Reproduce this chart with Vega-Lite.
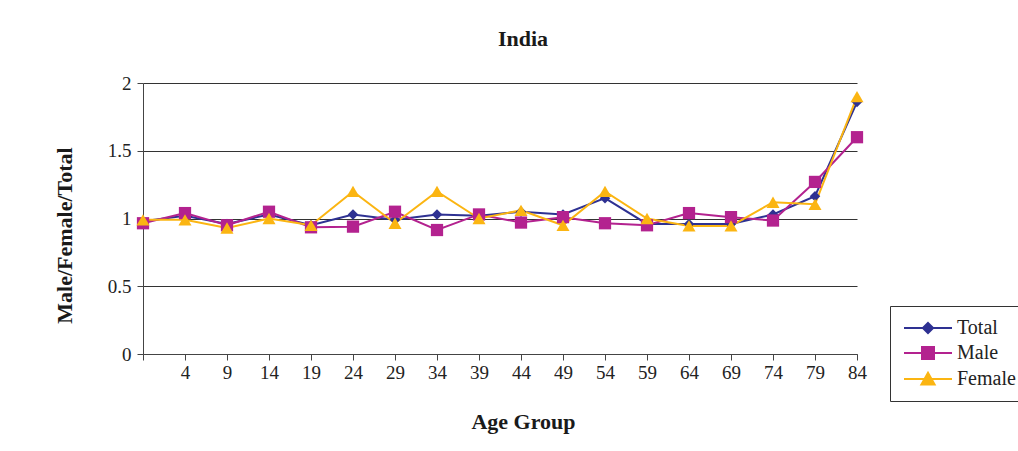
{
  "$schema": "https://vega.github.io/schema/vega-lite/v6.json",
  "autosize": {"type": "none"},
  "width": 714,
  "height": 271,
  "padding": {"left": 143, "top": 83, "right": 161, "bottom": 97},
  "background": "white",
  "config": {
    "font": "Liberation Serif",
    "view": {"stroke": null},
    "axis": {
      "labelFont": "Liberation Serif",
      "labelFontSize": 19,
      "labelColor": "#222",
      "titleFont": "Liberation Serif",
      "titleFontSize": 22,
      "titleFontWeight": "bold",
      "titleColor": "#1a1a1a",
      "domainColor": "#444",
      "tickColor": "#444",
      "tickSize": 6,
      "gridColor": "#333",
      "gridWidth": 1,
      "gridOpacity": 1
    }
  },
  "title": {
    "text": "India",
    "font": "Liberation Serif",
    "fontSize": 22,
    "fontWeight": "bold",
    "color": "#1a1a1a",
    "anchor": "middle",
    "baseline": "alphabetic",
    "offset": 6,
    "dx": 23
  },
  "data": {
    "values": [
      {"age": 0, "series": "Total", "value": 0.98},
      {"age": 4, "series": "Total", "value": 1.02},
      {"age": 9, "series": "Total", "value": 0.96},
      {"age": 14, "series": "Total", "value": 1.03},
      {"age": 19, "series": "Total", "value": 0.95},
      {"age": 24, "series": "Total", "value": 1.03},
      {"age": 29, "series": "Total", "value": 0.99},
      {"age": 34, "series": "Total", "value": 1.03},
      {"age": 39, "series": "Total", "value": 1.02},
      {"age": 44, "series": "Total", "value": 1.05},
      {"age": 49, "series": "Total", "value": 1.03},
      {"age": 54, "series": "Total", "value": 1.15},
      {"age": 59, "series": "Total", "value": 0.96},
      {"age": 64, "series": "Total", "value": 0.96},
      {"age": 69, "series": "Total", "value": 0.96},
      {"age": 74, "series": "Total", "value": 1.03},
      {"age": 79, "series": "Total", "value": 1.165},
      {"age": 84, "series": "Total", "value": 1.86},
      {"age": 0, "series": "Male", "value": 0.965},
      {"age": 4, "series": "Male", "value": 1.04},
      {"age": 9, "series": "Male", "value": 0.95},
      {"age": 14, "series": "Male", "value": 1.05},
      {"age": 19, "series": "Male", "value": 0.935},
      {"age": 24, "series": "Male", "value": 0.94},
      {"age": 29, "series": "Male", "value": 1.05},
      {"age": 34, "series": "Male", "value": 0.915},
      {"age": 39, "series": "Male", "value": 1.03},
      {"age": 44, "series": "Male", "value": 0.97},
      {"age": 49, "series": "Male", "value": 1.01},
      {"age": 54, "series": "Male", "value": 0.965},
      {"age": 59, "series": "Male", "value": 0.95},
      {"age": 64, "series": "Male", "value": 1.04},
      {"age": 69, "series": "Male", "value": 1.01},
      {"age": 74, "series": "Male", "value": 0.985},
      {"age": 79, "series": "Male", "value": 1.27},
      {"age": 84, "series": "Male", "value": 1.6},
      {"age": 0, "series": "Female", "value": 0.99},
      {"age": 4, "series": "Female", "value": 0.99},
      {"age": 9, "series": "Female", "value": 0.93},
      {"age": 14, "series": "Female", "value": 1.0},
      {"age": 19, "series": "Female", "value": 0.95},
      {"age": 24, "series": "Female", "value": 1.2},
      {"age": 29, "series": "Female", "value": 0.965},
      {"age": 34, "series": "Female", "value": 1.2},
      {"age": 39, "series": "Female", "value": 1.0},
      {"age": 44, "series": "Female", "value": 1.06},
      {"age": 49, "series": "Female", "value": 0.95},
      {"age": 54, "series": "Female", "value": 1.2},
      {"age": 59, "series": "Female", "value": 1.0},
      {"age": 64, "series": "Female", "value": 0.945},
      {"age": 69, "series": "Female", "value": 0.945},
      {"age": 74, "series": "Female", "value": 1.12},
      {"age": 79, "series": "Female", "value": 1.105},
      {"age": 84, "series": "Female", "value": 1.9}
    ]
  },
  "encoding": {
    "x": {
      "field": "age",
      "type": "ordinal",
      "scale": {"type": "point", "padding": 0},
      "axis": {
        "title": "Age Group",
        "labelAngle": 0,
        "labelPadding": 3,
        "labelExpr": "datum.value === 0 ? '' : datum.label",
        "titleX": 380,
        "titleY": 74,
        "titleAlign": "center",
        "titleBaseline": "alphabetic",
        "grid": false
      }
    },
    "y": {
      "field": "value",
      "type": "quantitative",
      "scale": {"domain": [0, 2], "nice": false, "zero": true},
      "axis": {
        "title": "Male/Female/Total",
        "values": [0, 0.5, 1, 1.5, 2],
        "format": "~g",
        "labelPadding": 6,
        "grid": true,
        "titleX": -79,
        "titleY": 152,
        "titleAlign": "center",
        "titleBaseline": "middle",
        "titleAngle": -90
      }
    },
    "color": {
      "field": "series",
      "type": "nominal",
      "scale": {
        "domain": ["Total", "Male", "Female"],
        "range": ["#2e3192", "#b3228f", "#fbb512"]
      },
      "legend": {
        "title": null,
        "orient": "none",
        "legendX": 747,
        "legendY": 223,
        "direction": "vertical",
        "strokeColor": "#333",
        "fillColor": "white",
        "padding": 12,
        "labelFont": "Liberation Serif",
        "labelFontSize": 20,
        "labelColor": "#222",
        "symbolSize": 144,
        "symbolOffset": 16,
        "labelOffset": 19,
        "rowPadding": 5,
        "encode": {
          "symbols": {
            "update": {
              "shape": {"signal": "datum.value === 'Total' ? 'M-4,0H4M0,-0.85L0.85,0L0,0.85L-0.85,0Z' : datum.value === 'Male' ? 'M-4,0H4M-1,-1H1V1H-1Z' : 'M-4,0H4M-1.1,0.9L1.1,0.9L0,-1.05Z'"},
              "fill": {"signal": "scale('color', datum.value)"},
              "stroke": {"signal": "scale('color', datum.value)"},
              "strokeWidth": {"value": 2},
              "opacity": {"value": 1}
            }
          }
        }
      }
    }
  },
  "layer": [
    {
      "mark": {"type": "line", "strokeWidth": 2},
      "encoding": {
        "detail": {"field": "series"}
      }
    },
    {
      "transform": [{"filter": "datum.series === 'Total'"}],
      "mark": {"type": "point", "shape": "diamond", "size": 110, "filled": true, "opacity": 1}
    },
    {
      "transform": [{"filter": "datum.series === 'Male'"}],
      "mark": {"type": "point", "shape": "square", "size": 150, "filled": true, "opacity": 1}
    },
    {
      "transform": [{"filter": "datum.series === 'Female'"}],
      "mark": {"type": "point", "shape": "triangle-up", "size": 170, "filled": true, "opacity": 1}
    }
  ]
}
